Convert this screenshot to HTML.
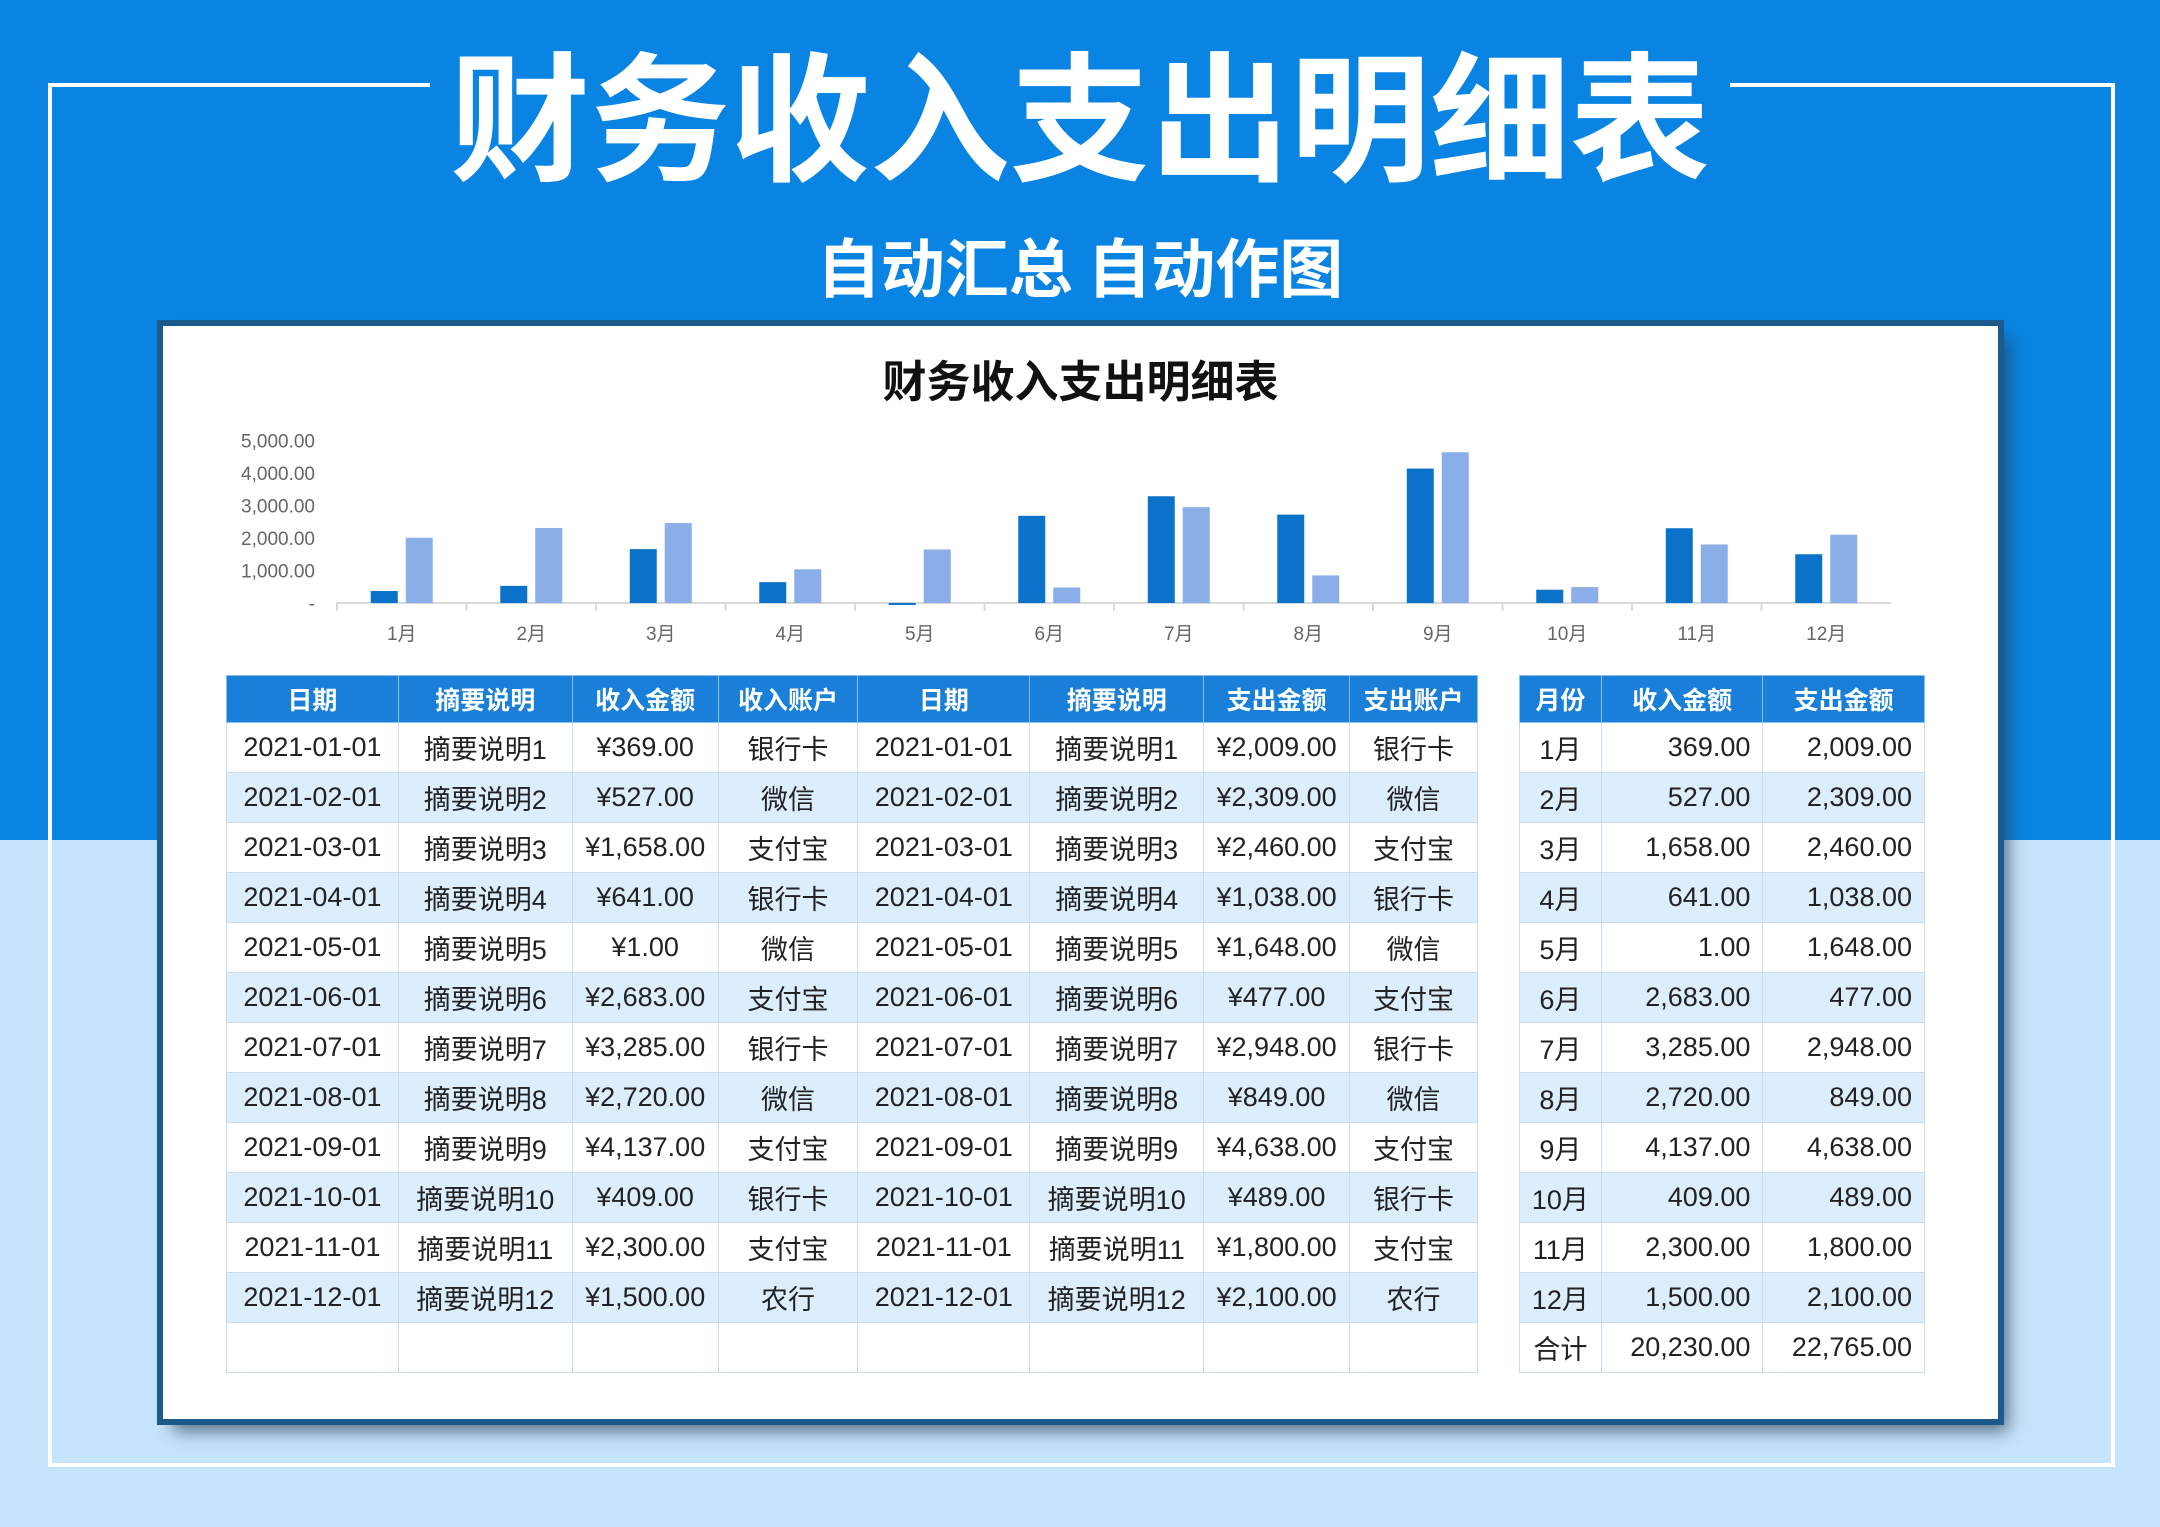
<!DOCTYPE html>
<html><head><meta charset="utf-8"><style>
*{margin:0;padding:0;box-sizing:border-box}
body{width:2160px;height:1527px;overflow:hidden;position:relative;background:#c6e4fb;font-family:"Liberation Sans","Noto Sans CJK SC",sans-serif}
#topbg{position:absolute;left:0;top:0;width:2160px;height:840px;background:#0a84e2}
#frame{position:absolute;left:48px;top:83px;width:2067px;height:1384px;border:4px solid #fff}
#title{position:absolute;left:0;top:30px;width:2160px;text-align:center;color:#fff;font-size:140px;font-weight:bold;line-height:160px;font-family:"Noto Sans CJK SC",sans-serif}
#title span{background:#0a84e2;padding:0 20px}
#sub{position:absolute;left:0;top:225px;width:2160px;text-align:center;color:#fff;font-size:64px;font-weight:bold;line-height:80px;font-family:"Noto Sans CJK SC",sans-serif}
#panel{position:absolute;left:163px;top:326px;width:1835px;height:1093px;background:#fff;box-shadow:0 0 0 6px #1c5a8c,10px 12px 16px rgba(40,60,80,.7)}
#ptitle{position:absolute;left:0;top:20px;width:100%;text-align:center;font-size:44px;font-weight:bold;color:#111;font-family:"Noto Sans CJK SC",sans-serif}
#chart{position:absolute;left:0;top:0}
table{position:absolute;border-collapse:collapse;font-size:27px;color:#222;font-family:"Liberation Sans","Noto Sans CJK SC",sans-serif}
td,th{border:1px solid #c9dcec;height:50px;text-align:center;white-space:nowrap;padding:0 6px}
th{background:#1a7fd8;color:#fff;font-size:25px;height:47px;border-color:#8cc0ee;font-family:"Noto Sans CJK SC",sans-serif}
tr.alt td{background:#dcedfb}
td.r{text-align:right;padding-right:12px}
</style></head><body>
<div id="topbg"></div>
<div id="frame"></div>
<div id="title"><span>财务收入支出明细表</span></div>
<div id="sub">自动汇总 自动作图</div>
<div id="panel">
<div id="ptitle">财务收入支出明细表</div>
<svg id="chart" width="1835" height="340"></svg>
<table id="t1" style="left:63px;top:349px;width:1252px">
<colgroup><col style="width:172px"><col style="width:174px"><col style="width:146px"><col style="width:140px"><col style="width:172px"><col style="width:174px"><col style="width:146px"><col style="width:128px"></colgroup>
<tr><th>日期</th><th>摘要说明</th><th>收入金额</th><th>收入账户</th><th>日期</th><th>摘要说明</th><th>支出金额</th><th>支出账户</th></tr>
</table>
<table id="t2" style="left:1356px;top:349px;width:406px">
<colgroup><col style="width:82px"><col style="width:162px"><col style="width:162px"></colgroup>
<tr><th>月份</th><th>收入金额</th><th>支出金额</th></tr>
</table>
</div>
<script>
const months=["1月","2月","3月","4月","5月","6月","7月","8月","9月","10月","11月","12月"];
const income=[369,527,1658,641,1,2683,3285,2720,4137,409,2300,1500];
const expense=[2009,2309,2460,1038,1648,477,2948,849,4638,489,1800,2100];
const incomeAcct=["银行卡","微信","支付宝","银行卡","微信","支付宝","银行卡","微信","支付宝","银行卡","支付宝","农行"];
const expenseAcct=["银行卡","微信","支付宝","银行卡","微信","支付宝","银行卡","微信","支付宝","银行卡","支付宝","农行"];
const yTicks=[0,1000,2000,3000,4000,5000];
const NS="http://www.w3.org/2000/svg";
const svg=document.getElementById('chart');
const x0=174,x1=1728,yBase=277,pxPer=32.5/1000;
const band=(x1-x0)/months.length;
function y(v){return yBase-v*pxPer;}
function fmt(v){return v.toLocaleString('en-US',{minimumFractionDigits:2,maximumFractionDigits:2});}
function mk(tag,attrs){const e=document.createElementNS(NS,tag);for(const k in attrs)e.setAttribute(k,attrs[k]);svg.appendChild(e);return e;}
yTicks.forEach(t=>{const e=mk('text',{x:152,y:y(t)+7,'text-anchor':'end','font-size':19,fill:'#666'});e.textContent=t===0?'-':fmt(t);

});
const ax=mk('line',{x1:x0,x2:x1,y1:yBase,y2:yBase,stroke:'#d9d9d9','stroke-width':2});


months.forEach((m,i)=>{const cx=x0+band*(i+0.5);
const b1=mk('rect',{x:cx-31,y:y(income[i]),width:27,height:Math.max(income[i]*pxPer,2),fill:'#0b72c9'});


const b2=mk('rect',{x:cx+4,y:y(expense[i]),width:27,height:expense[i]*pxPer,fill:'#8aaee8'});


const tk=mk('line',{x1:x0+band*i,x2:x0+band*i,y1:yBase,y2:yBase+8,stroke:'#d9d9d9','stroke-width':2});


const l=mk('text',{x:cx,y:yBase+37,'text-anchor':'middle','font-size':19,fill:'#666'});l.textContent=m;

});
const t1=document.getElementById('t1'),t2=document.getElementById('t2');
function row(tbl,cells,cls,i){const tr=document.createElement('tr');if(i%2===1)tr.className='alt';


cells.forEach((c,j)=>{const td=document.createElement('td');td.textContent=c;if(cls&&cls[j])td.className=cls[j];


tr.appendChild(td);});tbl.appendChild(tr);}
months.forEach((m,i)=>{const d='2021-'+String(i+1).padStart(2,'0')+'-01';
row(t1,[d,'摘要说明'+(i+1),'¥'+fmt(income[i]),incomeAcct[i],d,'摘要说明'+(i+1),'¥'+fmt(expense[i]),expenseAcct[i]],null,i);
row(t2,[m,fmt(income[i]),fmt(expense[i])],['','r','r'],i);});
row(t1,['','','','','','','',''],null,12);
row(t2,['合计',fmt(income.reduce((a,b)=>a+b,0)),fmt(expense.reduce((a,b)=>a+b,0))],['','r','r'],12);
</script>
</body></html>
